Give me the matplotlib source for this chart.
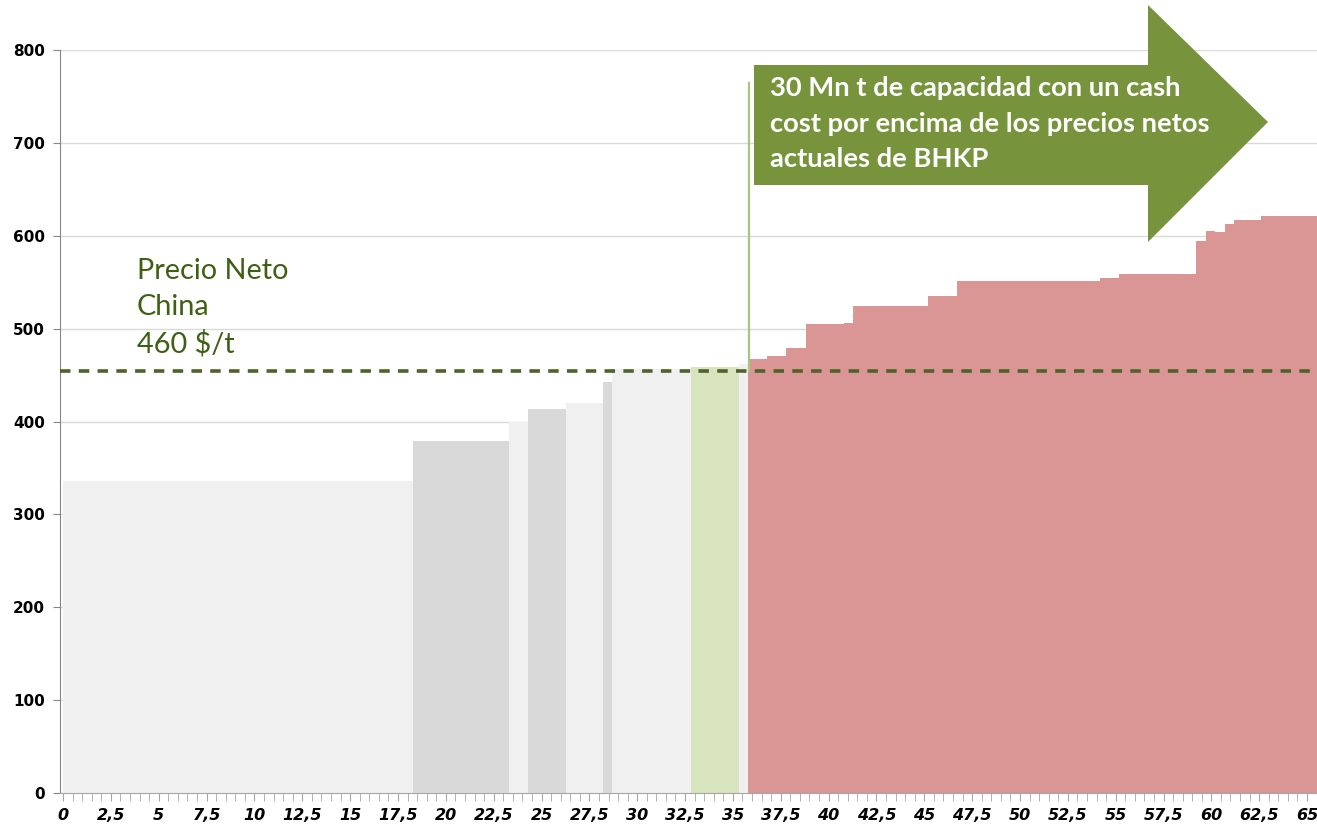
import matplotlib
matplotlib.use('Agg')
import matplotlib.pyplot as plt
from matplotlib.patches import Polygon
from matplotlib.ticker import MultipleLocator, FuncFormatter
import numpy as np

# capacity blocks (Mn t) and cash cost ($/t), left to right on the cost curve
capacity = [18.3, 5.0, 1.0, 2.0, 1.9, 0.5, 4.1, 2.5, 0.5,
            1.0, 1.0, 1.0, 2.0, 0.5, 3.9, 1.5, 7.5, 1.0, 4.0,
            0.5, 0.5, 0.5, 0.5, 1.4, 2.9]
cash_cost = [336, 379, 400, 413, 420, 443, 456, 459, 462,
             467, 471, 479, 505, 506, 524, 535, 551, 554, 559,
             594, 605, 604, 613, 617, 621]
group = ['light', 'dark', 'light', 'dark', 'light', 'dark', 'light', 'bhkp', 'light'] + ['above'] * 16
china_price = 454

colors = {'light': '#f0f0f0', 'dark': '#d9d9d9', 'bhkp': '#d7e4bd', 'above': '#d99694'}

W, H = 1317, 825
fig = plt.figure(figsize=(W / 100, H / 100), dpi=100)
ax = fig.add_axes([60 / W, 1 - 793 / H, 1 - 60 / W, (793 - 50) / H])

left = np.concatenate([[0], np.cumsum(capacity)[:-1]])
ax.bar(left, cash_cost, width=capacity, align='edge',
       color=[colors[g] for g in group], linewidth=0, zorder=2)

ax.axhline(china_price, color='#4f6228', lw=2.6, linestyle=(0, (2.9, 2.3)), zorder=4)

# marker line where capacity above the China net price starts
x_cut = left[group.index('above')]
ax.plot([x_cut + 0.05, x_cut + 0.05], [china_price, 765], color='#a9c47f', lw=1.6, zorder=3)

ax.set_xlim(-0.16, 65.52)
ax.set_ylim(0, 800)
ax.yaxis.set_major_locator(MultipleLocator(100))
ax.xaxis.set_major_locator(MultipleLocator(2.5))
ax.xaxis.set_minor_locator(MultipleLocator(0.5))
ax.xaxis.set_major_formatter(FuncFormatter(lambda v, p: ('%g' % v).replace('.', ',')))

ax.grid(axis='y', color='#d9d9d9', lw=1)
ax.set_axisbelow(True)
for s in ['top', 'right']:
    ax.spines[s].set_visible(False)
ax.spines['left'].set_color('#868686')
ax.spines['bottom'].set_color('#a6a6a6')
ax.spines['bottom'].set_zorder(5)

ax.tick_params(axis='y', length=5, color='#868686', labelsize=11, pad=6)
ax.tick_params(axis='x', which='both', length=6, color='#a6a6a6', direction='out', labelsize=11.5, pad=5)
for lab in ax.get_yticklabels():
    lab.set_fontweight('bold')
for lab in ax.get_xticklabels():
    lab.set_fontweight('bold')
    lab.set_fontstyle('italic')

# label for the China net price
fig.text(137 / W, 1 - 258 / H, 'Precio Neto\nChina\n460 $/t', color='#3f5f14',
         fontsize=20.8, family='Lato', va='top', linespacing=1.46)

# arrow shape with the annotation
pts = [(754, 65), (1148, 65), (1148, 5), (1268, 122), (1148, 242), (1148, 185), (754, 185)]
arrow = Polygon([(x / W, 1 - y / H) for x, y in pts], closed=True,
                facecolor='#77933c', edgecolor='none', transform=fig.transFigure, zorder=10)
fig.patches.append(arrow)
fig.text(770 / W, 1 - 76 / H,
         '30 Mn t de capacidad con un cash\ncost por encima de los precios netos\nactuales de BHKP',
         color='white', fontsize=19.7, fontweight='bold', family='Lato', va='top',
         linespacing=1.58, zorder=11)

fig.savefig('out.png', dpi=100)
